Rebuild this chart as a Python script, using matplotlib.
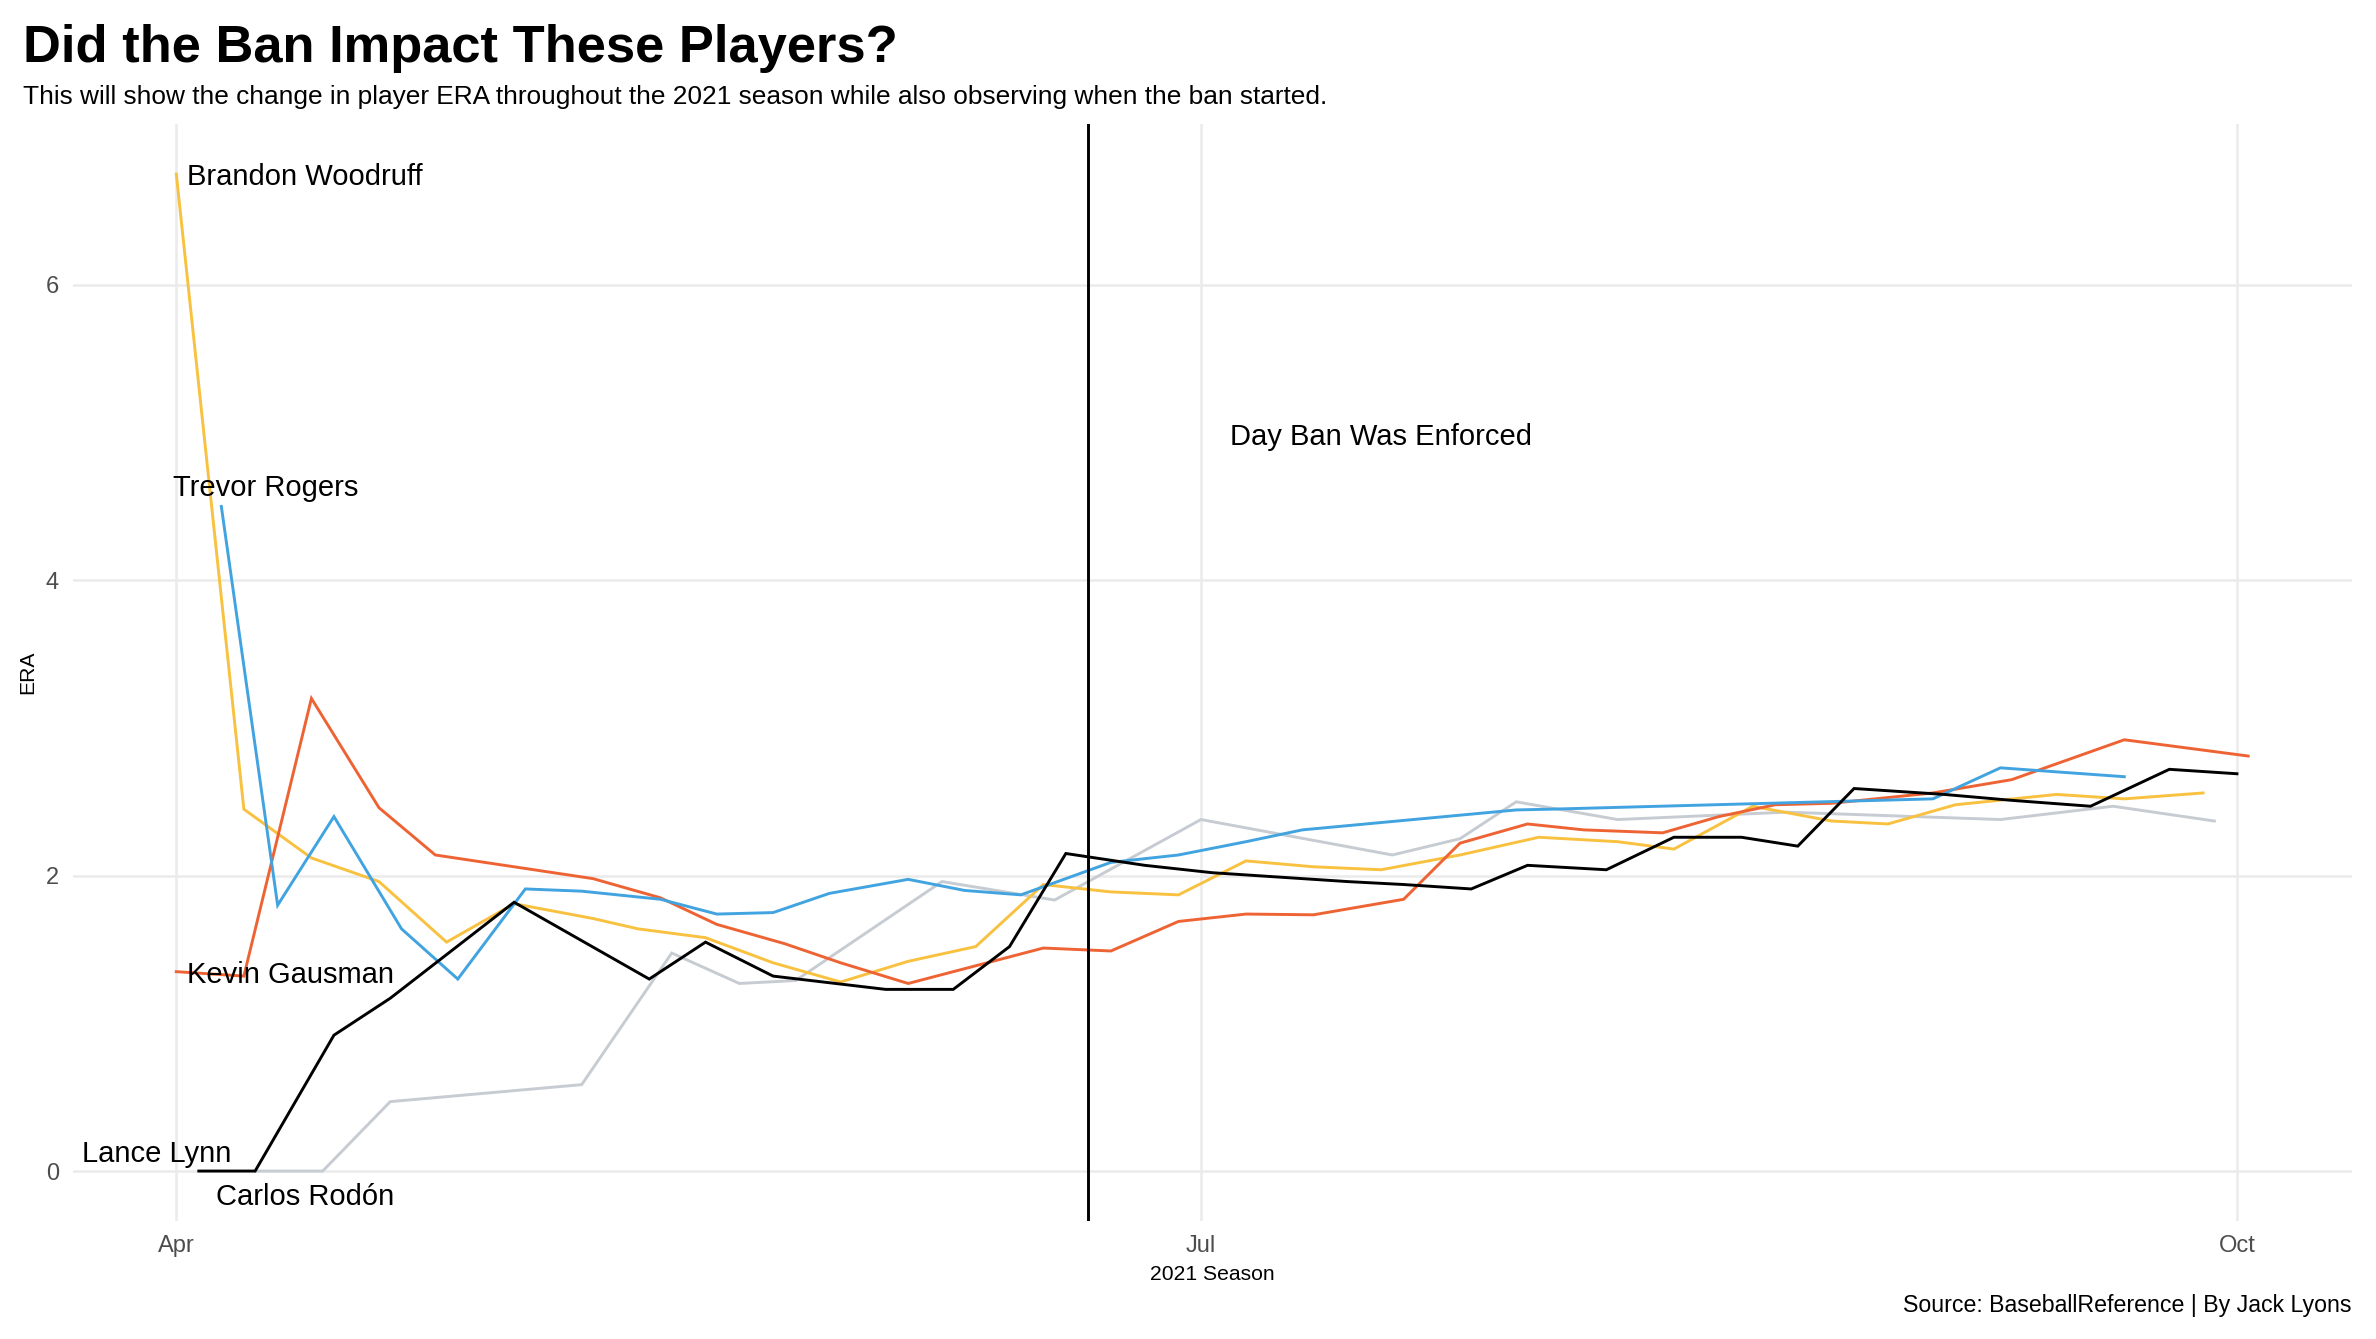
import matplotlib
matplotlib.use("Agg")
import matplotlib.pyplot as plt
import matplotlib.dates as mdates
import pandas as pd

plt.rcParams['font.family'] = ['Liberation Sans', 'DejaVu Sans']

# ---------------- data ----------------
woodruff_dates = ["2021-04-01", "2021-04-07", "2021-04-13", "2021-04-19", "2021-04-25", "2021-05-01",
                  "2021-05-08", "2021-05-12", "2021-05-18", "2021-05-24", "2021-05-30", "2021-06-05",
                  "2021-06-11", "2021-06-17", "2021-06-23", "2021-06-29", "2021-07-05", "2021-07-11",
                  "2021-07-17", "2021-07-24", "2021-07-31", "2021-08-07", "2021-08-12", "2021-08-19",
                  "2021-08-26", "2021-08-31", "2021-09-06", "2021-09-15", "2021-09-21", "2021-09-28"]
woodruff_era = [6.75, 2.45, 2.12, 1.96, 1.55, 1.81, 1.71, 1.64, 1.58, 1.41, 1.28, 1.42,
                1.52, 1.94, 1.89, 1.87, 2.10, 2.06, 2.04, 2.14, 2.26, 2.23, 2.18, 2.47,
                2.37, 2.35, 2.48, 2.55, 2.52, 2.56]

gausman_dates = ["2021-04-01", "2021-04-07", "2021-04-13", "2021-04-19", "2021-04-24", "2021-05-08",
                 "2021-05-14", "2021-05-19", "2021-05-25", "2021-05-30", "2021-06-05", "2021-06-11",
                 "2021-06-17", "2021-06-23", "2021-06-29", "2021-07-05", "2021-07-11", "2021-07-19",
                 "2021-07-24", "2021-07-30", "2021-08-04", "2021-08-11", "2021-08-16", "2021-08-21",
                 "2021-08-26", "2021-09-04", "2021-09-11", "2021-09-21", "2021-10-02"]
gausman_era = [1.35, 1.32, 3.20, 2.46, 2.14, 1.98, 1.85, 1.67, 1.54, 1.41, 1.27, 1.39,
               1.51, 1.49, 1.69, 1.74, 1.735, 1.84, 2.22, 2.35, 2.31, 2.29, 2.40, 2.48,
               2.49, 2.56, 2.65, 2.92, 2.81]

rogers_dates = ["2021-04-05", "2021-04-10", "2021-04-15", "2021-04-21", "2021-04-26", "2021-05-02",
                "2021-05-07", "2021-05-14", "2021-05-19", "2021-05-24", "2021-05-29", "2021-06-05",
                "2021-06-10", "2021-06-15", "2021-06-23", "2021-06-29", "2021-07-05", "2021-07-10",
                "2021-07-29", "2021-08-01", "2021-09-04", "2021-09-10", "2021-09-21"]
rogers_era = [4.50, 1.80, 2.40, 1.64, 1.30, 1.91, 1.895, 1.84, 1.74, 1.75, 1.88, 1.975,
              1.90, 1.87, 2.09, 2.14, 2.23, 2.31, 2.445, 2.45, 2.52, 2.73, 2.67]

lynn_dates = ["2021-04-03", "2021-04-08", "2021-04-15", "2021-04-20", "2021-05-01", "2021-05-13",
              "2021-05-18", "2021-05-24", "2021-06-03", "2021-06-09", "2021-06-14", "2021-06-19",
              "2021-06-26", "2021-07-02", "2021-07-08", "2021-07-14", "2021-07-19", "2021-07-25",
              "2021-07-30", "2021-08-06", "2021-08-12", "2021-08-18", "2021-08-23", "2021-08-28",
              "2021-09-05", "2021-09-11", "2021-09-18", "2021-09-25", "2021-10-01"]
lynn_era = [0.00, 0.00, 0.92, 1.17, 1.82, 1.30, 1.55, 1.32, 1.23, 1.23, 1.52, 2.15,
            2.07, 2.02, 1.99, 1.96, 1.94, 1.91, 2.07, 2.04, 2.26, 2.26, 2.20, 2.59,
            2.55, 2.51, 2.47, 2.72, 2.69]

rodon_dates = ["2021-04-08", "2021-04-14", "2021-04-20", "2021-05-07", "2021-05-15", "2021-05-21",
               "2021-05-26", "2021-06-08", "2021-06-18", "2021-07-01", "2021-07-18", "2021-07-24",
               "2021-07-29", "2021-08-07", "2021-08-22", "2021-09-10", "2021-09-20", "2021-09-29"]
rodon_era = [0.00, 0.00, 0.47, 0.585, 1.476, 1.27, 1.29, 1.96, 1.835, 2.38, 2.14, 2.25,
             2.50, 2.38, 2.43, 2.38, 2.47, 2.37]

ban_date = "2021-06-21"
x_ticks = ["2021-04-01", "2021-07-01", "2021-10-01"]
x_tick_labels = ["Apr", "Jul", "Oct"]
y_ticks = [0, 2, 4, 6]

title = "Did the Ban Impact These Players?"
subtitle = "This will show the change in player ERA throughout the 2021 season while also observing when the ban started."
caption = "Source: BaseballReference | By Jack Lyons"

# ---------------- plot ----------------
players = [
    ("Lance Lynn", lynn_dates, lynn_era, "#000000", (-42, 17), "center"),
    ("Carlos Rodón", rodon_dates, rodon_era, "#C6CCD2", (50, -26), "center"),
    ("Woodruff", woodruff_dates, woodruff_era, "#F8C140", (11, -3), "left"),
    ("Kevin Gausman", gausman_dates, gausman_era, "#EE6334", (11, -3), "left"),
    ("Trevor Rogers", rogers_dates, rogers_era, "#41A3DF", (44, 18), "center"),
]
label_names = {"Woodruff": "Brandon Woodruff"}

fig = plt.figure(figsize=(11.88, 6.695), dpi=200)
ax = fig.add_axes([0.0306, 0.0882, 0.9592, 0.819])

order = ["Carlos Rodón", "Woodruff", "Kevin Gausman", "Trevor Rogers", "Lance Lynn"]
all_dates = []
all_vals = []
for name, d, v, col, off, ha in players:
    dd = pd.to_datetime(d)
    all_dates.extend(dd)
    all_vals.extend(v)
    z = 3 + order.index(name)
    ax.plot(dd, v, color=col, lw=1.05, zorder=z, solid_joinstyle='miter')
    ax.annotate(label_names.get(name, name), xy=(dd[0], v[0]), xytext=off,
                textcoords='offset pixels', ha=ha, va='center', fontsize=10.5,
                color='black', zorder=10)

ax.axvline(pd.to_datetime(ban_date), color='black', lw=1.05, zorder=9)
ax.text(pd.to_datetime("2021-07-17"), 4.97, "Day Ban Was Enforced", ha='center', va='center',
        fontsize=10.5, color='black')

xmin, xmax = min(all_dates), max(all_dates)
pad = (xmax - xmin) * 0.05
ax.set_xlim(mdates.date2num(xmin - pad), mdates.date2num(xmax + pad))
ymin, ymax = min(all_vals), max(all_vals)
ypad = (ymax - ymin) * 0.05
ax.set_ylim(ymin - ypad, ymax + ypad)

ax.set_xticks(mdates.date2num(pd.to_datetime(x_ticks)))
ax.set_xticklabels(x_tick_labels)
ax.set_yticks(y_ticks)
ax.tick_params(length=0, labelsize=8.5, colors='#4D4D4D', pad=5)
ax.grid(True, color='#EBEBEB', lw=0.9, zorder=0)
ax.set_axisbelow(True)
for s in ax.spines.values():
    s.set_visible(False)

ax.set_xlabel("2021 Season", fontsize=7.6, color='black', labelpad=3)
ax.set_ylabel("ERA", fontsize=7.6, color='black', labelpad=3)

fig.text(0.0096, 0.9536, title, fontsize=18.9, fontweight='bold', ha='left', va='baseline')
fig.text(0.0096, 0.922, subtitle, fontsize=9.45, ha='left', va='baseline')
fig.text(0.9898, 0.0204, caption, fontsize=8.35, ha='right', va='baseline')

fig.savefig("out.png", dpi=200, facecolor='white')
